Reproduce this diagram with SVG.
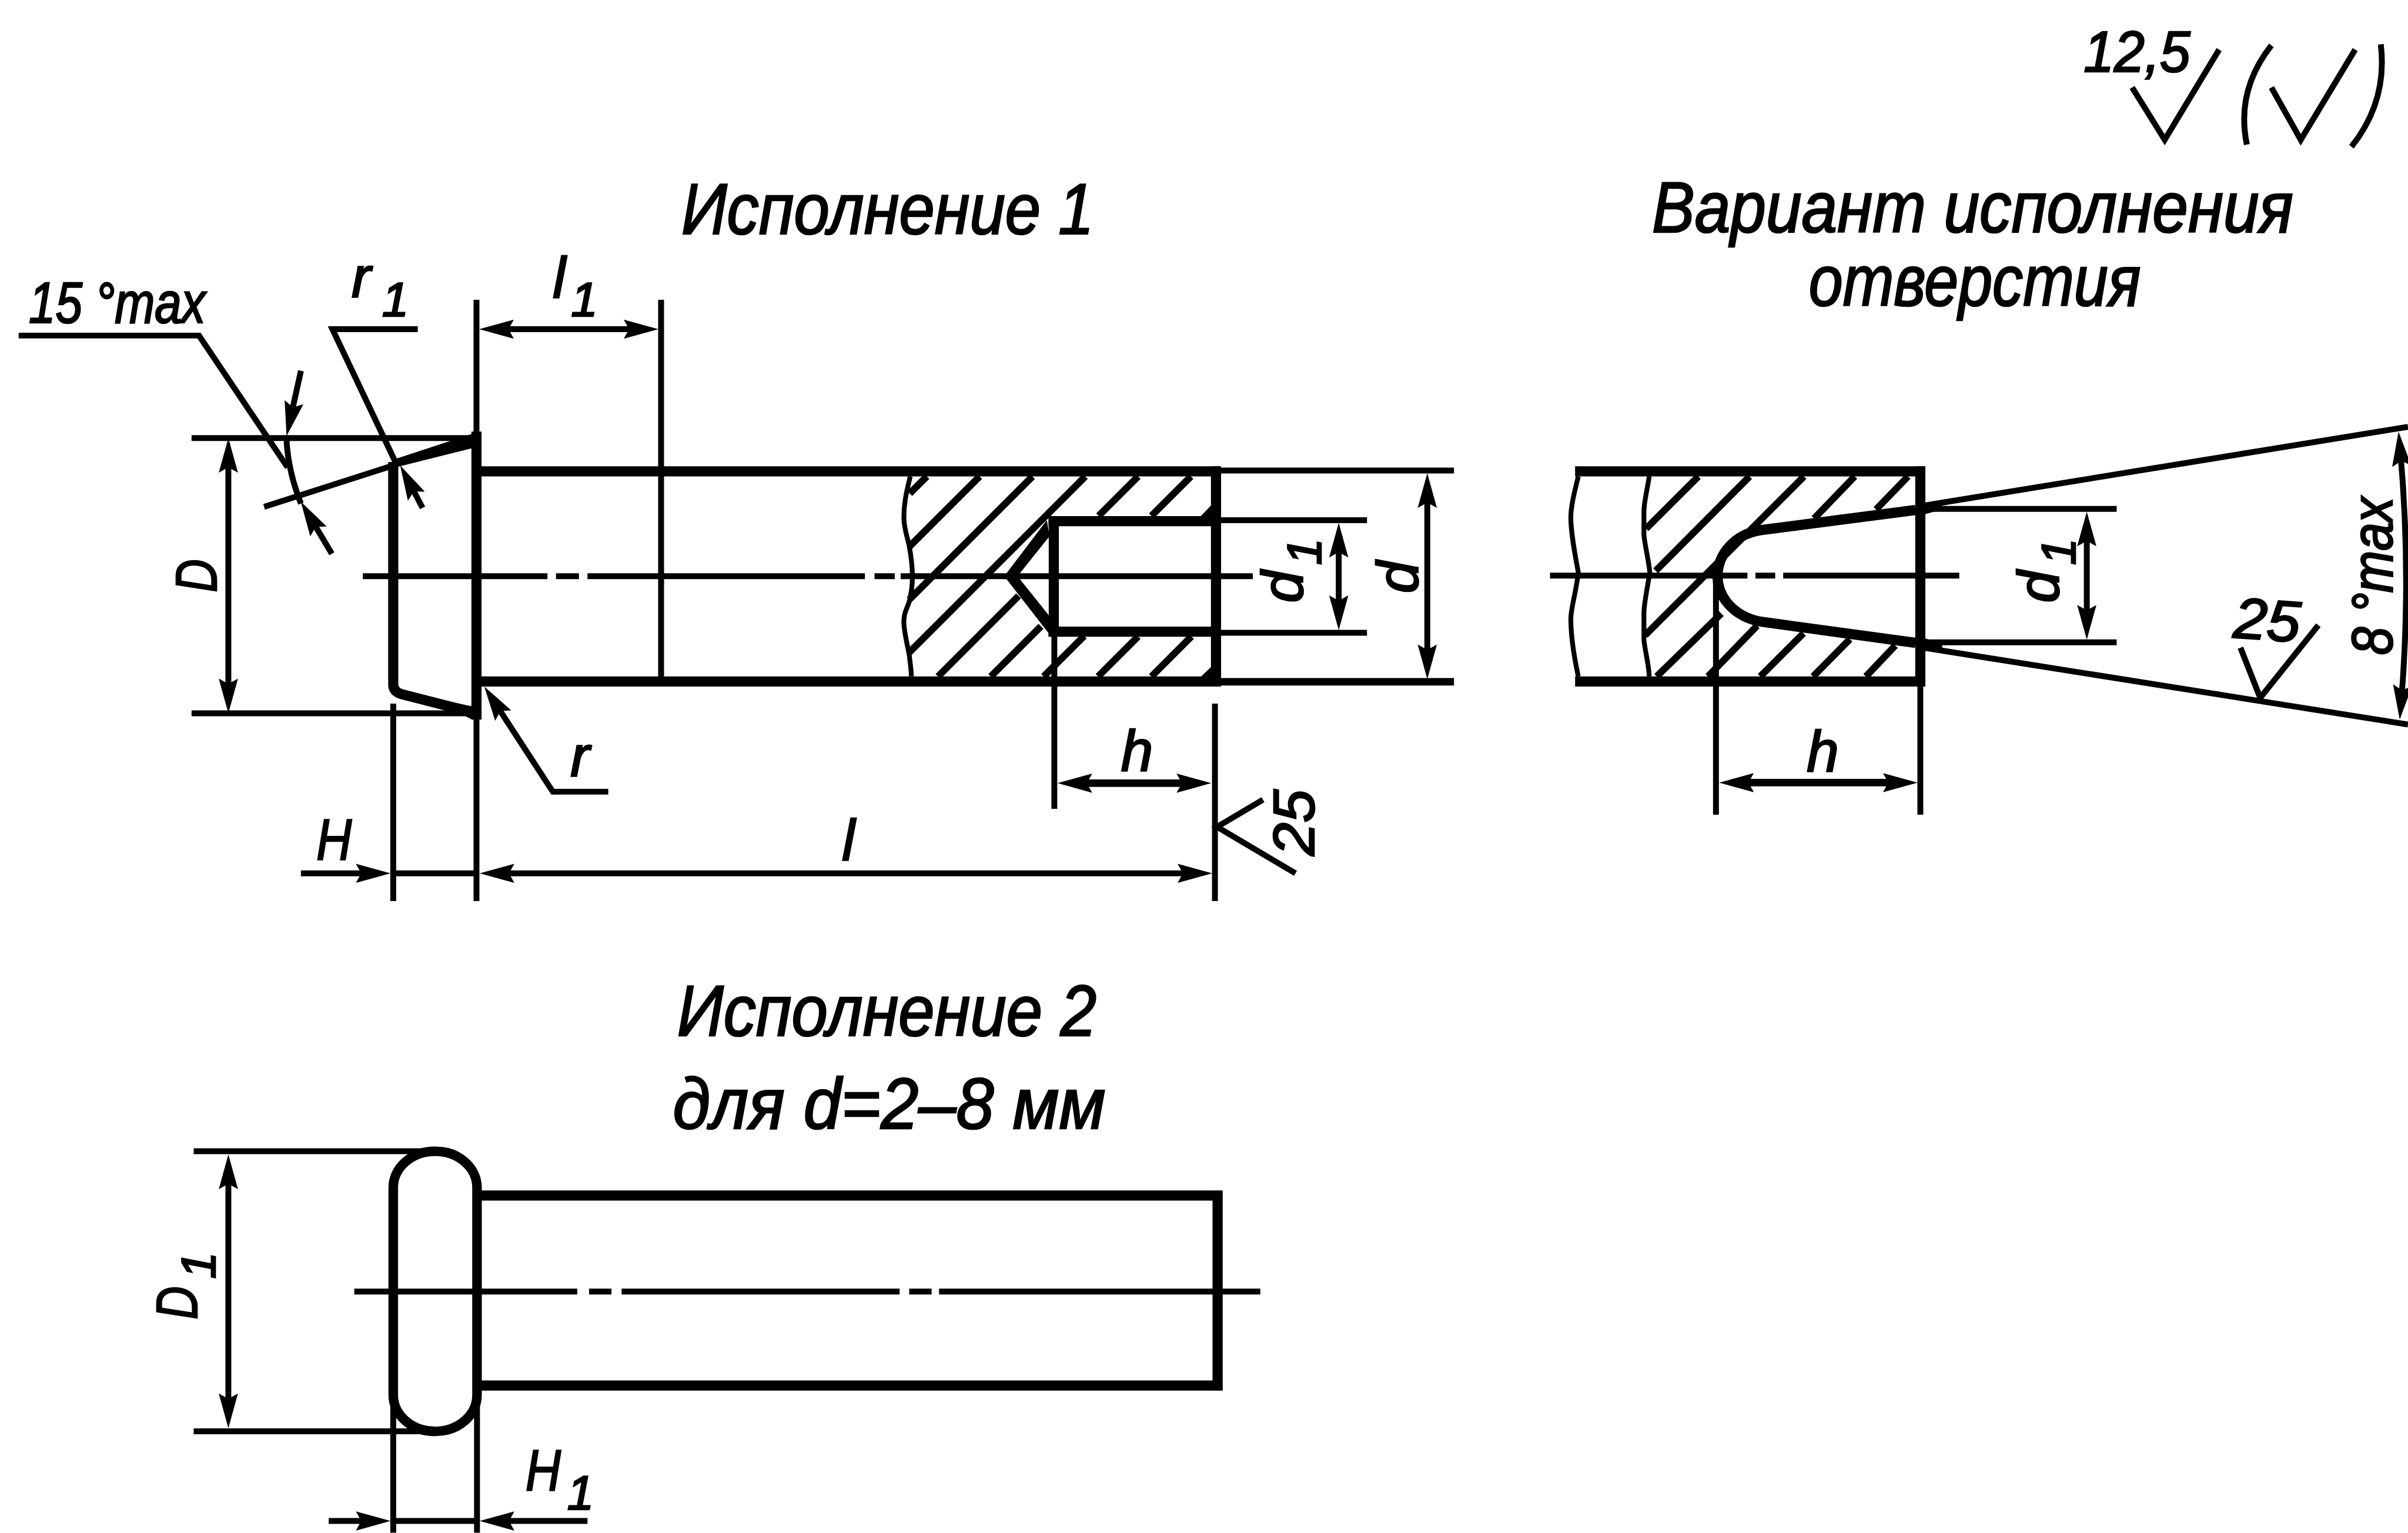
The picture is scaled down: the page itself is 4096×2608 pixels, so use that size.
<svg xmlns="http://www.w3.org/2000/svg" width="4096" height="2608" viewBox="0 0 4096 2608">
<style>
line,path,polyline{fill:none;stroke:#000;stroke-linecap:butt}
.k{stroke-width:19}
.m{stroke-width:14}
.t{stroke-width:11}
.h{stroke-width:13}
.w{stroke-width:9}
.a{marker-end:url(#ar)}
.b{marker-start:url(#ar);marker-end:url(#ar)}
polygon.f{fill:#000;stroke:none}
text{font-family:"Liberation Sans","Noto Sans",sans-serif;font-style:italic;fill:#000;stroke:#000;stroke-width:3}
.ti{font-size:135px}
.lb{font-size:108px}
.sb{font-size:90px}
</style>
<defs>
<marker id="ar" markerUnits="userSpaceOnUse" markerWidth="70" markerHeight="40" refX="35" refY="20" orient="auto-start-reverse"><path d="M65,20 L0,2 L10,20 L0,38z" style="fill:#000;stroke:none"/></marker>
</defs>
<rect width="4096" height="2608" fill="#fff"/>
<g transform="scale(0.9076)">
<g id="version-1-part">
<path class="t" d="M680,1080H1026M1042,1080H1085M1101,1080H1621M1639,1080H1677M1688,1080H2348"/>
<g id="v1-hatching">
<line class="h" x1="1737" y1="893" x2="1705" y2="925"/>
<line class="h" x1="1836" y1="893" x2="1704" y2="1025"/>
<line class="h" x1="1935" y1="893" x2="1704" y2="1124"/>
<line class="h" x1="2034" y1="893" x2="1704" y2="1223"/>
<line class="h" x1="2133" y1="893" x2="2059" y2="967"/>
<line class="h" x1="2232" y1="893" x2="2158" y2="967"/>
<line class="h" x1="1758" y1="1268" x2="1909" y2="1117"/>
<line class="h" x1="1857" y1="1268" x2="1951" y2="1174"/>
<line class="h" x1="1956" y1="1268" x2="2032" y2="1192"/>
<line class="h" x1="2058" y1="1268" x2="2133" y2="1193"/>
<line class="h" x1="2158" y1="1268" x2="2233" y2="1193"/>
</g>
<polygon class="f" points="2250,968 2272,945 2272,968"/>
<polygon class="f" points="2250,1269 2272,1248 2272,1269"/>
<path class="w" d="M1706,893C1698,925 1694,945 1694,970C1694,990 1700,1005 1704,1023C1708,1045 1710,1060 1710,1080C1710,1100 1708,1110 1704,1128C1698,1145 1694,1150 1694,1165C1694,1185 1700,1205 1704,1227C1706,1245 1708,1255 1708,1268"/>
<line class="k" x1="893" y1="883.5" x2="2288" y2="883.5"/>
<line class="k" x1="893" y1="1277.5" x2="2288" y2="1277.5"/>
<line class="k" x1="893" y1="809" x2="893" y2="1349"/>
<line class="k" x1="2279" y1="874" x2="2279" y2="1287"/>
<line class="k" x1="1965" y1="977" x2="2279" y2="977"/>
<line class="k" x1="1965" y1="1184" x2="2279" y2="1184"/>
<line class="k" x1="1975" y1="968" x2="1975" y2="1193"/>
<polygon class="f" points="1886,1075 1962,975 1967,1005 1911,1075 1911,1085 1967,1155 1975,1193 1970,1193 1886,1085"/>
<polygon class="f" points="742,860 885,813 885,840 742,876"/>
<line class="t" x1="495" y1="950" x2="745" y2="870"/>
<path class="k" d="M737,866V1283Q737,1296 752,1301L885,1335"/>
<polygon class="f" points="800,1306 885,1324 885,1349"/>
</g>
<g id="connectors">
<line class="t" x1="893" y1="562" x2="893" y2="1689"/>
<line class="t" x1="1239" y1="562" x2="1239" y2="1277"/>
<line class="t" x1="359" y1="821" x2="885" y2="821"/>
<line class="t" x1="359" y1="1337" x2="885" y2="1337"/>
<line class="t" x1="737" y1="1319" x2="737" y2="1689"/>
<line class="t" x1="1976" y1="1185" x2="1976" y2="1516"/>
<line class="t" x1="2277" y1="1319" x2="2277" y2="1689"/>
<line class="t" x1="2287" y1="882" x2="2725" y2="882"/>
<line class="m" x1="2287" y1="1278" x2="2725" y2="1278"/>
<line class="t" x1="2287" y1="975" x2="2562" y2="975"/>
<line class="t" x1="2287" y1="1186" x2="2562" y2="1186"/>
<line class="t b" x1="928" y1="617" x2="1204" y2="617"/>
<line class="t b" x1="428" y1="851" x2="428" y2="1307"/>
<line class="t a" x1="564" y1="1637" x2="702" y2="1637"/>
<line class="t" x1="737" y1="1637" x2="893" y2="1637"/>
<line class="t b" x1="929" y1="1637" x2="2242" y2="1637"/>
<line class="m b" x1="2012" y1="1468" x2="2240" y2="1468"/>
<line class="t b" x1="2509" y1="1010" x2="2509" y2="1151"/>
<line class="t b" x1="2675" y1="917" x2="2675" y2="1243"/>
<polyline class="t" points="35,629 373,629 539,876"/>
<path class="t" d="M537,822Q539,880 564,944"/>
<line class="t a" x1="564" y1="695" x2="543.5" y2="788"/>
<line class="t a" x1="622" y1="1038" x2="579" y2="966"/>
<polyline class="t" points="783,617 623,617 742,868"/>
<line class="t a" x1="792" y1="952" x2="764" y2="899"/>
<polyline class="t a" points="1140,1484 1036,1484 924,1312"/>
<polyline class="t" points="2367,1499 2281,1550 2428,1637"/>
</g>
<g id="version-1-labels">
<text class="ti" x="1277" y="439" textLength="773" lengthAdjust="spacingAndGlyphs">Исполнение 1</text>
<text class="lb" x="54" y="605" textLength="331" lengthAdjust="spacingAndGlyphs">15 °max</text>
<text class="lb" x="659" y="558">r</text><text class="sb" x="716" y="593">1</text>
<text class="lb" x="1036" y="558">l</text><text class="sb" x="1070" y="593">1</text>
<text class="lb" x="1069" y="1456">r</text>
<text class="lb" x="593" y="1611" textLength="66" lengthAdjust="spacingAndGlyphs">H</text>
<text class="lb" transform="translate(406,1110) rotate(-90)" textLength="62" lengthAdjust="spacingAndGlyphs">D</text>
<text class="lb" x="1578" y="1612">l</text>
<text class="lb" x="2101" y="1444">h</text>
<text class="lb" transform="translate(2441,1130) rotate(-90)">d</text><text class="sb" transform="translate(2476,1059) rotate(-90)">1</text>
<text class="lb" transform="translate(2656,1112) rotate(-90)">d</text>
<text class="lb" transform="translate(2463,1604) rotate(-90)" textLength="124" lengthAdjust="spacingAndGlyphs">25</text>
</g>
<g id="hole-variant">
<path class="t" d="M2905,1079H3275M3290,1079H3327M3342,1079H3672"/>
<g id="hole-hatching">
<line class="h" x1="3183" y1="893" x2="3085" y2="991"/>
<line class="h" x1="3279" y1="893" x2="3103" y2="1070"/>
<line class="h" x1="3381" y1="893" x2="3083" y2="1191"/>
<line class="h" x1="3476" y1="893" x2="3400" y2="972"/>
<line class="h" x1="3576" y1="893" x2="3516" y2="955"/>
<line class="h" x1="3105" y1="1268" x2="3226" y2="1150"/>
<line class="h" x1="3201" y1="1268" x2="3293" y2="1173"/>
<line class="h" x1="3299" y1="1268" x2="3380" y2="1187"/>
<line class="h" x1="3398" y1="1268" x2="3467" y2="1198"/>
<line class="h" x1="3497" y1="1268" x2="3552" y2="1210"/>
</g>
<path class="w" d="M2958,893C2950,925 2944,950 2944,970C2944,1000 2952,1040 2958,1073C2954,1110 2944,1140 2944,1160C2944,1200 2952,1240 2958,1268"/>
<path class="w" d="M3091,893C3086,925 3081,940 3081,960L3081,1003C3084,1030 3090,1050 3092,1073C3088,1100 3081,1130 3081,1150L3081,1200C3084,1225 3090,1245 3091,1268"/>
<line class="k" x1="2952" y1="883.5" x2="3608" y2="883.5"/>
<line class="k" x1="2952" y1="1277.5" x2="3608" y2="1277.5"/>
<line class="k" x1="3599" y1="874" x2="3599" y2="1287"/>
<path class="k" d="M3590,956L3298,994C3250,1002 3219,1040 3219,1080C3219,1120 3250,1155 3298,1165L3590,1205"/>
<polygon class="f" points="3600,946 3640,938 3640,955 3600,966"/>
<polygon class="f" points="3600,1194 3640,1207 3640,1222 3600,1215"/>
<line class="t" x1="3592" y1="950" x2="4513" y2="800"/>
<line class="t" x1="3592" y1="1212" x2="4513" y2="1358"/>
<line class="t" x1="3599" y1="1287" x2="3599" y2="1527"/>
<line class="t" x1="3216" y1="1085" x2="3216" y2="1527"/>
<line class="t" x1="3608" y1="954" x2="3967" y2="954"/>
<line class="t" x1="3608" y1="1204" x2="3967" y2="1204"/>
<line class="t b" x1="3911" y1="989" x2="3911" y2="1169"/>
<line class="m b" x1="3252" y1="1467" x2="3564" y2="1467"/>
<path class="t b" d="M4498,839Q4520,1080 4500,1319"/>
<polyline class="t" points="4199,1214 4236,1308 4345,1172"/>
<text class="ti" x="3096" y="435" textLength="1202" lengthAdjust="spacingAndGlyphs">Вариант исполнения</text>
<text class="ti" x="3390" y="573" textLength="622" lengthAdjust="spacingAndGlyphs">отверстия</text>
<text class="lb" transform="translate(3857,1130) rotate(-90)">d</text><text class="sb" transform="translate(3889,1059) rotate(-90)">1</text>
<text class="lb" x="3386" y="1446">h</text>
<text class="lb" transform="translate(4184,1195) rotate(4)" textLength="125" lengthAdjust="spacingAndGlyphs">25</text>
<text class="lb" transform="translate(4483,1228) rotate(-90)" textLength="296" lengthAdjust="spacingAndGlyphs">8 °max</text>
</g>
<g id="version-2-part">
<path class="t" d="M664,2421H1082M1104,2421H1146M1165,2421H1686M1704,2421H1746M1760,2421H2362"/>
<rect x="737" y="2158" width="157" height="525" rx="78" ry="68" fill="none" stroke="#000" stroke-width="18"/>
<line class="k" x1="894" y1="2241" x2="2291" y2="2241"/>
<line class="k" x1="894" y1="2597" x2="2291" y2="2597"/>
<line class="k" x1="2282" y1="2232" x2="2282" y2="2606"/>
<line class="t" x1="363" y1="2158" x2="820" y2="2158"/>
<line class="t" x1="363" y1="2683" x2="790" y2="2683"/>
<line class="t" x1="737" y1="2600" x2="737" y2="2873"/>
<line class="t" x1="894" y1="2600" x2="894" y2="2873"/>
<line class="t b" x1="428" y1="2194" x2="428" y2="2647"/>
<line class="t a" x1="616" y1="2851" x2="702" y2="2851"/>
<line class="t" x1="737" y1="2851" x2="894" y2="2851"/>
<line class="t a" x1="1101" y1="2851" x2="929" y2="2851"/>
<text class="ti" x="1269" y="1941" textLength="786" lengthAdjust="spacingAndGlyphs">Исполнение 2</text>
<text class="ti" x="1261" y="2116" textLength="811" lengthAdjust="spacingAndGlyphs">для d=2–8 мм</text>
<text class="lb" transform="translate(369,2473) rotate(-90)" textLength="62" lengthAdjust="spacingAndGlyphs">D</text><text class="sb" transform="translate(403,2397) rotate(-90)">1</text>
<text class="lb" x="985" y="2793" textLength="66" lengthAdjust="spacingAndGlyphs">H</text><text class="sb" x="1063" y="2829">1</text>
</g>
<g id="roughness">
<text class="lb" x="3905" y="134" textLength="200" lengthAdjust="spacingAndGlyphs">12,5</text>
<polyline class="t" points="3996,164 4057,262 4159,93"/>
<polyline class="t" points="4257,164 4312,262 4414,93"/>
<path class="t" d="M4257,85Q4190,170 4211,271"/>
<path class="t" d="M4462,83Q4475,190 4407,275"/>
</g>
</g>
</svg>
